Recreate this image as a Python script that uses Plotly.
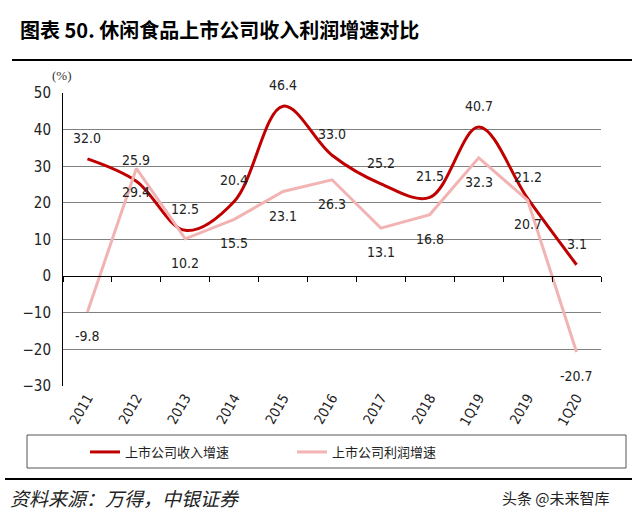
import plotly.graph_objects as go

categories = ["2011", "2012", "2013", "2014", "2015", "2016", "2017", "2018", "1Q19", "2019", "1Q20"]
revenue_growth = [32.0, 25.9, 12.5, 20.4, 46.4, 33.0, 25.2, 21.5, 40.7, 21.2, 3.1]
profit_growth = [-9.8, 29.4, 10.2, 15.5, 23.1, 26.3, 13.1, 16.8, 32.3, 20.7, -20.7]
series_names = ["上市公司收入增速", "上市公司利润增速"]
y_ticks = [-30, -20, -10, 0, 10, 20, 30, 40, 50]

W, H = 640, 520
L, R, T, B = 63, 601, 93, 386
RED = "#C00000"
PINK = "#F2B3B3"
NUM_FONT = "Liberation Sans Narrow, Arial Narrow, DejaVu Sans Condensed, Liberation Sans, Arial"
CJK = "Noto Sans CJK SC"


def px(x):
    return (x - L) / (R - L)


def py(y):
    return (B - y) / (B - T)


n = len(categories)
idx = list(range(n))

fig = go.Figure()
fig.add_trace(go.Scatter(x=idx, y=revenue_growth, name=series_names[0], mode="lines",
                         line=dict(color=RED, width=3, shape="spline", smoothing=1.0),
                         hoverinfo="skip"))
fig.add_trace(go.Scatter(x=idx, y=profit_growth, name=series_names[1], mode="lines",
                         line=dict(color=PINK, width=3),
                         hoverinfo="skip"))
# invisible helper trace so the category-label axis is drawn
fig.add_trace(go.Scatter(x=idx, y=[None] * n, xaxis="x2", yaxis="y", mode="lines",
                         showlegend=False, hoverinfo="skip"))

ann = []
for i, v in enumerate(revenue_growth):
    ann.append(dict(x=i, y=v, xref="x", yref="y", text=f"{v:.1f}", showarrow=False,
                    yshift=21, font=dict(family=NUM_FONT, size=14, color="#222")))
for i, v in enumerate(profit_growth):
    ann.append(dict(x=i, y=v, xref="x", yref="y", text=f"{v:.1f}", showarrow=False,
                    yshift=-24, font=dict(family=NUM_FONT, size=14, color="#222")))

# title, unit, source, watermark
ann.append(dict(x=px(18), y=py(30), xref="paper", yref="paper", xanchor="left", yanchor="middle",
                text="<b>图表 50. 休闲食品上市公司收入利润增速对比</b>", showarrow=False,
                font=dict(family=CJK, size=20, color="#000")))
ann.append(dict(x=px(62), y=py(75), xref="paper", yref="paper", xanchor="center", yanchor="middle",
                text="(%)", showarrow=False,
                font=dict(family="Liberation Serif, DejaVu Serif", size=13, color="#333")))
ann.append(dict(x=px(8), y=py(497), xref="paper", yref="paper", xanchor="left", yanchor="middle",
                text="<i>资料来源：万得，中银证券</i>", showarrow=False,
                font=dict(family=CJK, size=19, color="#222")))
ann.append(dict(x=px(612), y=py(497), xref="paper", yref="paper", xanchor="right", yanchor="middle",
                text="头条 @未来智库", showarrow=False,
                font=dict(family=CJK, size=15, color="#222")))

shapes = [
    dict(type="line", xref="paper", yref="paper", x0=px(12), x1=px(632), y0=py(60), y1=py(60),
         line=dict(color="#000", width=2)),
    dict(type="line", xref="paper", yref="paper", x0=px(5), x1=px(632), y0=py(479), y1=py(479),
         line=dict(color="#000", width=2)),
    dict(type="rect", xref="paper", yref="paper", x0=px(27), x1=px(626), y0=py(435), y1=py(468),
         line=dict(color="#555", width=1)),
]

zero_pos = (0 - y_ticks[0]) / (y_ticks[-1] - y_ticks[0])
fig.update_layout(
    width=W, height=H,
    margin=dict(l=L, r=W - R, t=T, b=H - B),
    paper_bgcolor="white", plot_bgcolor="white",
    showlegend=True,
    legend=dict(orientation="h", x=px(85), xanchor="left", y=py(452), yanchor="middle",
                entrywidth=162, entrywidthmode="pixels",
                font=dict(family=CJK, size=13, color="#222"), bgcolor="rgba(0,0,0,0)"),
    annotations=ann,
    shapes=shapes,
    xaxis=dict(anchor="free", position=zero_pos, range=[-0.5, n - 0.5],
               tickvals=[i - 0.5 for i in range(n + 1)], ticks="outside", ticklen=5, tickcolor="#000",
               showline=True, linecolor="#000", linewidth=1, showgrid=False, zeroline=False,
               showticklabels=False),
    xaxis2=dict(overlaying="x", anchor="y", side="bottom", range=[-0.5, n - 0.5],
                tickvals=idx, ticktext=categories, tickangle=-60,
                ticks="", showline=False, showgrid=False, zeroline=False,
                tickfont=dict(family=NUM_FONT, size=14, color="#222")),
    yaxis=dict(range=[y_ticks[0], y_ticks[-1]], tickvals=y_ticks, showgrid=True,
               gridcolor="#808080", gridwidth=1, zeroline=False,
               showline=True, linecolor="#000", linewidth=1, ticks="",
               ticklabelstandoff=8,
               tickfont=dict(family=NUM_FONT, size=15, color="#222")),
)

fig.write_html("out.html")
